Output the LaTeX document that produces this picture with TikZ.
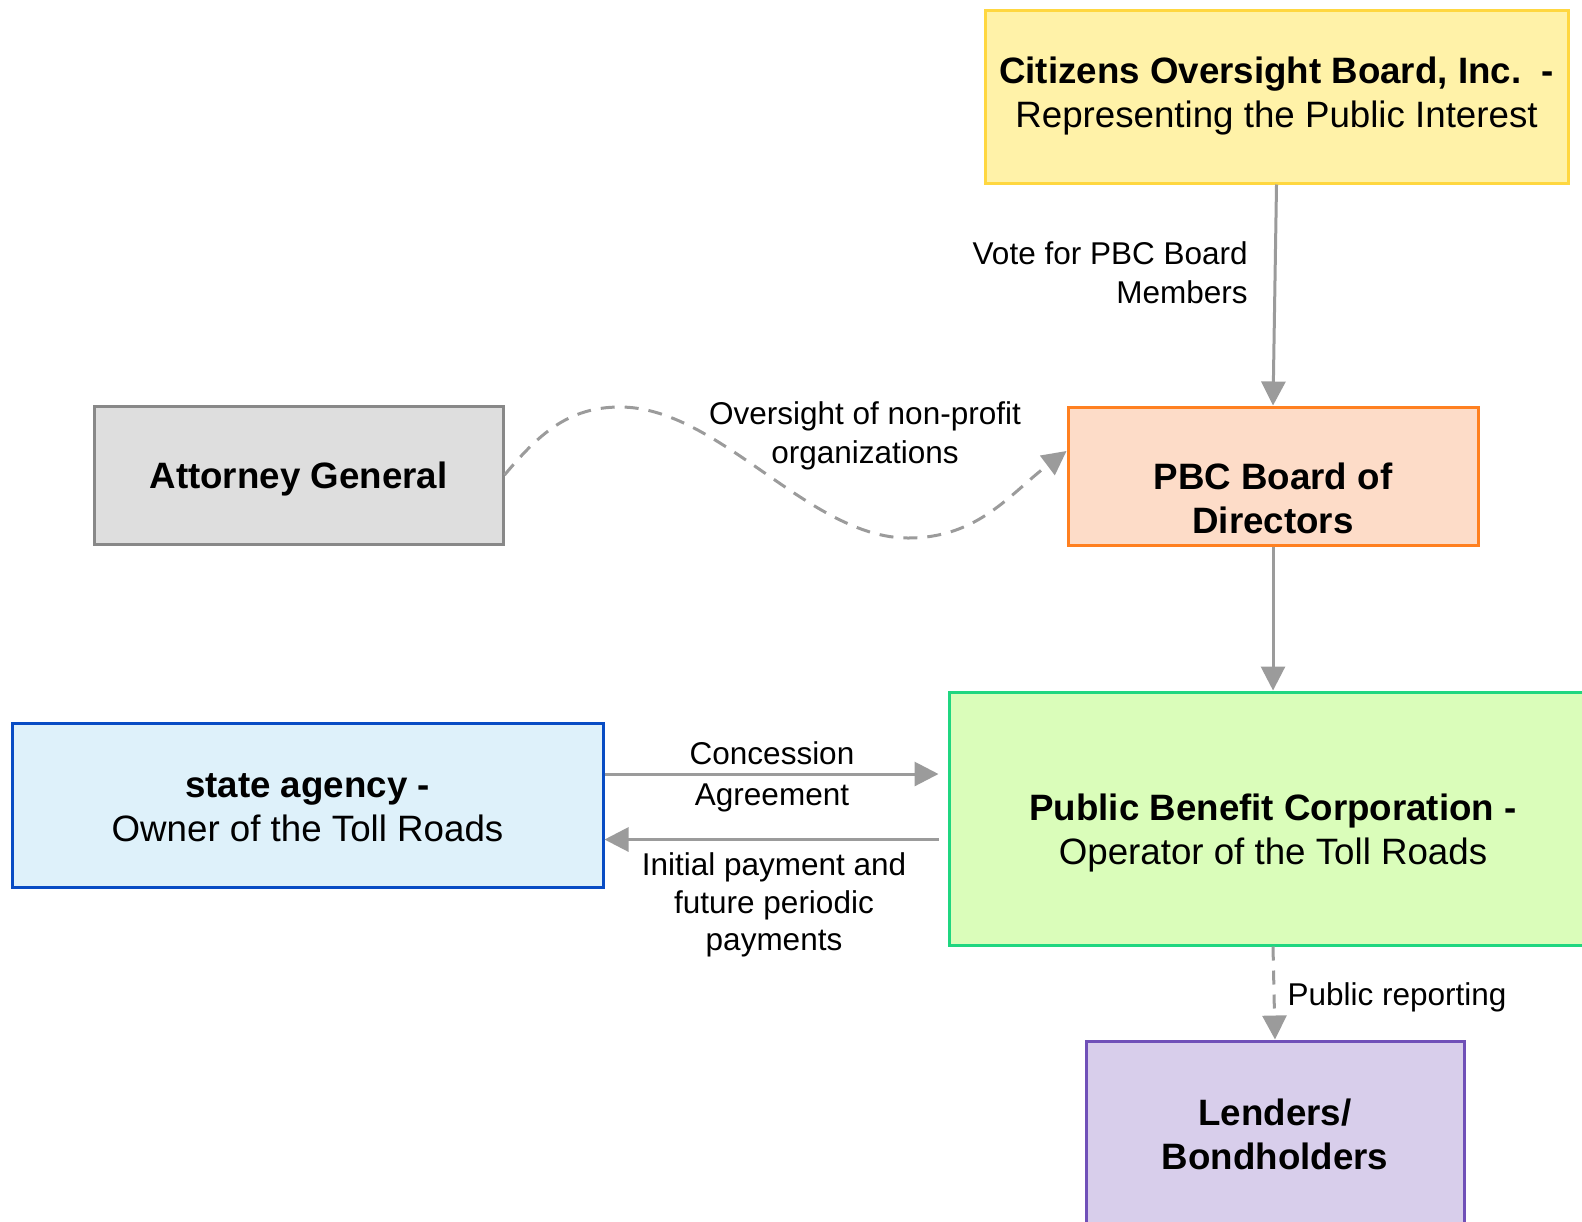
\documentclass[tikz,border=0pt]{standalone}
\usepackage{fontspec}
\setmainfont{Liberation Sans}
\usetikzlibrary{arrows.meta,calc}
\definecolor{citfill}{RGB}{255,242,168}
\definecolor{citline}{RGB}{255,215,64}
\definecolor{agfill}{RGB}{222,222,222}
\definecolor{agline}{RGB}{136,136,136}
\definecolor{bdfill}{RGB}{253,220,200}
\definecolor{bdline}{RGB}{255,128,32}
\definecolor{pbcfill}{RGB}{218,253,186}
\definecolor{pbcline}{RGB}{32,214,128}
\definecolor{stfill}{RGB}{222,241,250}
\definecolor{stline}{RGB}{8,76,196}
\definecolor{lnfill}{RGB}{216,206,235}
\definecolor{lnline}{RGB}{112,80,184}
\definecolor{linegray}{RGB}{155,155,155}
\begin{document}
\begin{tikzpicture}[x=0.5pt,y=-0.5pt,
  box/.style={draw, line width=1.5pt, align=center, inner sep=0pt, font=\fontsize{18.35}{22}\selectfont},
  txt/.style={align=center, inner sep=0pt, font=\fontsize{18.35}{22}\selectfont},
  btext/.style={txt, font=\fontsize{18.35}{22}\selectfont\bfseries},
  lbl/.style={align=center, inner sep=0pt, text=black, font=\fontsize{15.75}{19.5}\selectfont},
  conn/.style={color=linegray, line width=1.5pt, -{Triangle[length=12pt,width=12pt]}},
  dconn/.style={conn, dash pattern=on 7pt off 5pt}]
\useasboundingbox (0,0) rectangle (1582,1221);
\clip (0,0) rectangle (1582,1221);
% boxes
\node[box, fill=citfill, draw=citline, minimum width=291.5pt, minimum height=86.5pt] (cit) at (1276.5,96.5)
  {\textbf{Citizens Oversight Board, Inc.\ \ -}\\Representing the Public Interest};
\node[box, fill=agfill, draw=agline, minimum width=204.5pt, minimum height=69pt] (ag) at (298.5,475) {};
\node[btext] (agt) at ([yshift=-2pt]ag.center) {Attorney General};
\node[box, fill=bdfill, draw=bdline, minimum width=205pt, minimum height=69pt] (pbcb) at (1273,476) {};
\node[btext] (pbcbt) at ([yshift=-11pt]pbcb.center) {PBC Board of\\Directors};
\node[box, fill=pbcfill, draw=pbcline, minimum width=324pt, minimum height=126.5pt] (pbc) at (1273,818.5) {};
\node[txt] (pbct) at ([yshift=-7.25pt]pbc.center) {\textbf{Public Benefit Corporation -}\\Operator of the Toll Roads};
\node[box, fill=stfill, draw=stline, minimum width=295.5pt, minimum height=82pt] (state) at (307.5,805) {};
\node[txt] (statet) at ([yshift=-1.5pt]state.center) {\textbf{state agency -}\\Owner of the Toll Roads};
\node[box, fill=lnfill, draw=lnline, minimum width=189pt, minimum height=93.5pt, font=\fontsize{18.35}{22}\selectfont\bfseries] (lend) at (1275,1134.5) {Lenders/\\Bondholders};
% connectors
\draw[conn] (cit.south) -- node[lbl, pos=0.4, anchor=east, xshift=-13pt, align=right] {Vote for PBC Board\\Members} (pbcb.north);
\draw[dconn] (ag.east) to[out=50,in=180] (620,407) to[out=0,in=180,looseness=0.8] (908,538) to[out=0,in=217] ([yshift=12.5pt]pbcb.west);
\node[lbl] (ovl) at (865,436) {Oversight of non-profit\\organizations};
\draw[conn] (pbcb.south) -- (pbc.north);
\coordinate (c1) at ([yshift=15.5pt]state.east);
\coordinate (c2) at ([yshift=-17.25pt]state.east);
\draw[conn, shorten >=4.5pt] (c1) -- node[lbl, xshift=-2pt, yshift=-1.5pt, font=\fontsize{15.75}{20.5}\selectfont] {Concession\\Agreement} (c1 -| pbc.west);
\draw[conn, shorten <=4.5pt] (c2 -| pbc.west) -- node[lbl, below, inner sep=0pt, xshift=-1pt, yshift=-6pt, font=\fontsize{15.75}{18.75}\selectfont] {Initial payment and\\future periodic\\payments} (c2);
\draw[dconn] (pbc.south) -- node[lbl, anchor=west, xshift=6pt, yshift=-2pt] {Public reporting} (lend.north);
\end{tikzpicture}
\end{document}
